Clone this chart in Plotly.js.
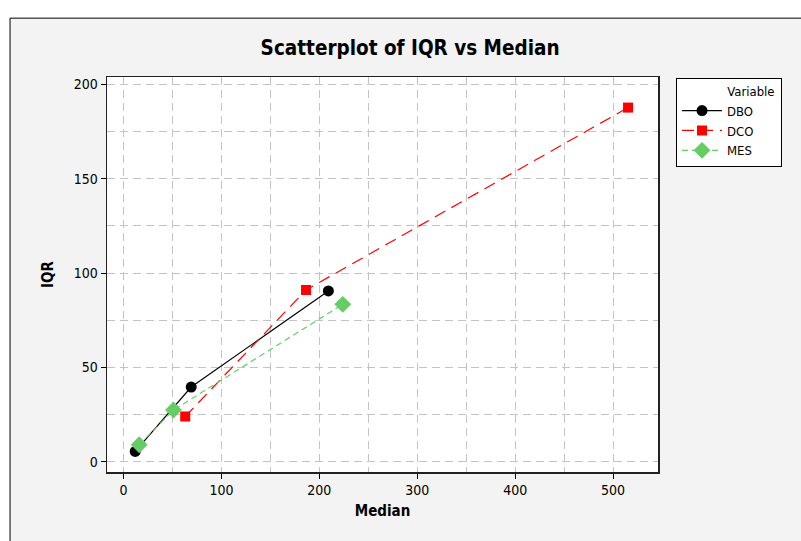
<!DOCTYPE html>
<html>
<head>
<meta charset="utf-8">
<script src="https://cdn.plot.ly/plotly-3.0.1.min.js"></script>
<style>html,body{margin:0;padding:0;background:#fff;}#chart{width:801px;height:541px;}</style>
</head>
<body>
<div id="chart"></div>
<script>
const seriesNames = ["DBO", "DCO", "MES"];
const dboMedian = [11.9, 69.1, 209.2];
const dboIQR = [5.6, 39.7, 90.6];
const dcoMedian = [63.0, 186.4, 515.3];
const dcoIQR = [24.1, 91.1, 187.7];
const mesMedian = [16.0, 51.0, 223.9];
const mesIQR = [9.1, 27.5, 83.5];
const xTicks = [0, 100, 200, 300, 400, 500];
const yTicks = [0, 50, 100, 150, 200];

const FONT = "'DejaVu Sans Condensed', 'Liberation Sans', sans-serif";

const traces = [
  {x: dboMedian, y: dboIQR, name: seriesNames[0], mode: "lines+markers", type: "scatter",
   line: {color: "#000000", width: 1.2, dash: "solid"},
   marker: {symbol: "circle", size: 11, color: "#000000"}},
  {x: dcoMedian, y: dcoIQR, name: seriesNames[1], mode: "lines+markers", type: "scatter",
   line: {color: "#ff0000", width: 1.2, dash: "12px,7px"},
   marker: {symbol: "square", size: 10, color: "#ff0000"}},
  {x: mesMedian, y: mesIQR, name: seriesNames[2], mode: "lines+markers", type: "scatter",
   line: {color: "#66cc66", width: 1.2, dash: "6px,4px"},
   marker: {symbol: "diamond", size: 13, color: "#66cc66"}}
];

const GRID = {gridcolor: "#c4c4c4", griddash: "8px,5px", gridwidth: 1};

const layout = {
  width: 801, height: 541,
  margin: {l: 107, r: 143, t: 77, b: 69},
  paper_bgcolor: "#ffffff",
  plot_bgcolor: "rgba(0,0,0,0)",
  font: {family: FONT, color: "#000000", size: 14},
  title: {text: "<b>Scatterplot of IQR vs Median</b>", font: {family: FONT, size: 20.5, color: "#000"},
          xref: "container", x: 0.512, xanchor: "center", yref: "container", y: 0.911, yanchor: "middle"},
  xaxis: Object.assign({
    range: [-16.9, 545.9], tickvals: xTicks, ticktext: xTicks.map(String),
    ticks: "outside", ticklen: 5, tickcolor: "#000", showline: true, linecolor: "#222", linewidth: 1.5, mirror: true,
    zeroline: false, showgrid: true,
    minor: Object.assign({dtick: 50, tick0: 0, showgrid: true}, GRID),
    tickfont: {size: 14},
    title: {text: "<b>Median</b>", font: {size: 15}, standoff: 8}
  }, GRID),
  yaxis: Object.assign({
    range: [-5.3, 203.9], tickvals: yTicks, ticktext: yTicks.map(String),
    ticks: "outside", ticklen: 5, tickcolor: "#000", showline: true, linecolor: "#222", linewidth: 1.5, mirror: true,
    zeroline: false, showgrid: true,
    minor: Object.assign({dtick: 25, tick0: 0, showgrid: true}, GRID),
    tickfont: {size: 14},
    title: {text: "<b>IQR</b>", font: {size: 15}, standoff: 16}
  }, GRID),
  legend: {
    x: 1.0327, y: 0.9982, xanchor: "left", yanchor: "top",
    bgcolor: "#ffffff", bordercolor: "#000000", borderwidth: 1,
    font: {size: 13}, itemwidth: 40,
    title: {text: "&nbsp;&nbsp;&nbsp;&nbsp;&nbsp;&nbsp;&nbsp;&nbsp;&nbsp;&nbsp;&nbsp;&nbsp;&nbsp;Variable&nbsp;", font: {size: 13}}
  },
  shapes: [
    {type: "rect", xref: "paper", yref: "paper", x0: -0.176, x1: 1.3, y0: -0.2, y1: 1.149,
     fillcolor: "#f3f3f3", line: {color: "#000", width: 1}, layer: "below"},
    {type: "rect", xref: "paper", yref: "paper", x0: 0, x1: 1, y0: 0, y1: 1,
     fillcolor: "#ffffff", line: {width: 0}, layer: "below"}
  ],
  showlegend: true
};

Plotly.newPlot("chart", traces, layout, {displayModeBar: false, staticPlot: true});
</script>
</body>
</html>
